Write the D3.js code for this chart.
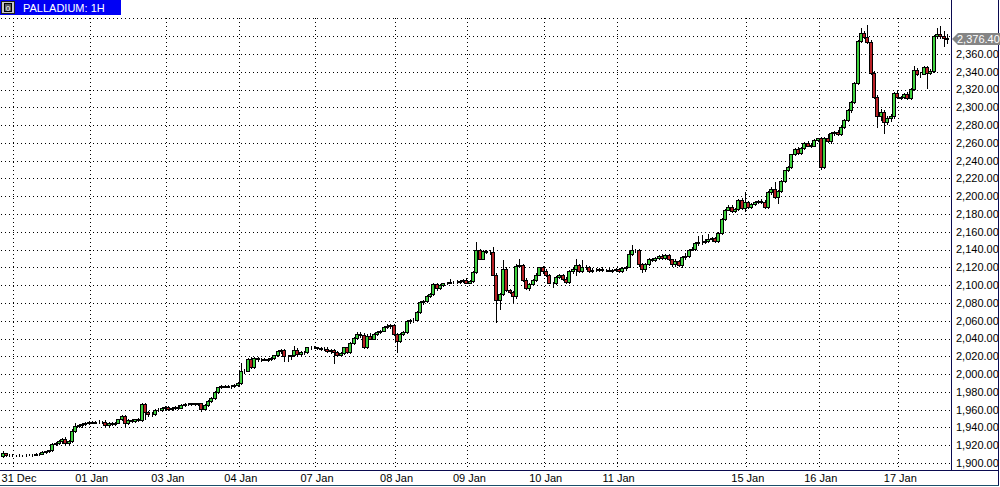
<!DOCTYPE html>
<html><head><meta charset="utf-8">
<script src="https://cdn.jsdelivr.net/npm/d3@7"></script>
<style>body{margin:0;background:#fff}svg{display:block}</style>
</head><body><svg id="c" width="1000" height="487"></svg>
<script>
const opens=[1908,1911,1909,1909,1908.5,1909,1908.5,1909,1909.5,1909,1909.5,1910,1910.5,1912.5,1913,1914.5,1921,1922.5,1925,1926.5,
1923,1924.5,1936,1942,1943,1944,1945,1946,1945.5,1946.5,1946,1946.5,1943,1944.5,1944,1945,1949,1953,1945,1948,
1947.5,1949,1948,1966,1957,1955.5,1955,1960,1959.5,1962,1963,1961,1962,1963.5,1962,1965.5,1966,1966.5,1967,1966.5,
1967,1960.5,1965,1970,1973,1980,1985,1986.5,1986,1987,1986.5,1988,1990,2003,2004,2017,2008,2018,2016.5,2017,
2016,2017,2018,2021,2026,2027,2020,2020.5,2021,2027,2023,2024.5,2025,2030,2031,2030,2029,2028,2028.5,2026,
2027,2025,2022,2024,2030,2025,2035,2041,2045,2044,2030,2043,2040,2045,2047,2049,2053,2054,2055,2045,
2037,2045,2047,2060,2060.5,2061,2070,2081,2082,2088,2090,2101,2097,2100,2102,2103,2103.5,2104,2103.5,2105,
2106,2103,2105,2115,2139,2130,2138,2137,2137.5,2112,2083,2090,2118,2095,2092,2088,2122,2123,2106,2097,
2101,2106,2112,2120,2116,2112,2103,2102,2109,2112,2107,2104,2116,2118,2123,2116,2121,2120,2116,2117.5,
2117,2118,2117,2117.5,2116.5,2117,2118,2116,2119,2121,2135,2139,2139.5,2124,2118,2124,2129,2128,2131,2133,
2131,2134,2129,2124,2127,2123,2132,2133,2140,2141,2147,2148,2149,2150,2152,2153,2150,2159,2174,2185,
2188,2183,2186,2196,2187,2193,2188,2191,2194,2195,2193,2188,2205,2208,2199,2206,2217,2229,2233,2247,
2253,2249,2254,2260,2257,2257,2263,2265,2233,2265,2262,2271,2272,2270,2278,2286,2297,2306,2327,2375,2384,
2379,2374,2339,2312,2290,2295,2284,2288,2290,2316,2311,2311.5,2315,2310,2321,2342,2337,2338,2345,
2339,2341,2380,2383,2380,2378];
const highs=[1913,1911.5,1910,1910,1909.5,1910,1909.5,1910,1910.5,1910,1911,1911,1913,1914,1915,1922,1924,1926,1928,1929,
1926,1938,1945,1944,1945,1946,1947,1947,1947,1948,1947.5,1948,1946,1946,1946,1950,1954,1954,1949,1950,
1950,1951,1968,1968,1959,1957,1961,1962,1963,1964,1964.5,1963,1964,1965,1966,1967,1967.5,1968,1968,1968,
1968,1966,1971,1974,1981,1986,1988,1988,1988,1988,1989,1991,2013,2006,2018,2019,2019,2019,2018,2018,
2018,2019,2022,2027,2028,2028,2022,2022,2032,2029,2026,2026,2031,2032,2032,2031,2030,2030,2031,2028,
2028,2026,2025,2031,2031,2036,2042,2047,2047,2046,2045,2046,2046,2048,2050,2054,2056,2056,2056,2046,
2046,2048,2061,2062,2063,2071,2082,2083,2089,2091,2102,2103,2101,2103,2104,2107,2105,2106,2106,2107,
2108,2106,2116,2148,2141,2140,2140,2139,2143,2114,2091,2128,2120,2096,2093,2124,2130,2124,2108,2102,
2107,2114,2121,2122,2118,2113,2104,2110,2113,2113,2109,2117,2119,2130,2124,2128,2123,2122,2119,2119,
2119,2120,2118.5,2119,2118,2119,2119,2120,2122,2138,2145,2141,2141,2125,2125,2131,2131,2132,2134,2135,
2135,2135,2130,2129,2128,2133,2136,2141,2143,2148,2155,2156,2152,2157,2154,2154,2160,2175,2186,2190,
2190,2187,2197,2198,2205,2195,2192,2195,2196,2197,2196,2206,2210,2216,2207,2218,2230,2234,2248,2254,
2255,2255,2261,2262,2260,2264,2266,2267,2267,2270,2272,2273,2274,2279,2287,2298,2307,2328,2376,2389,2386,
2393,2376,2341,2314,2298,2297,2290,2292,2317,2318,2313,2316,2317,2322,2346,2344,2340,2346,2347,
2343,2381,2389,2391,2386,2382];
const lows=[1907,1908,1908,1908,1907.5,1908,1907.5,1908,1908.5,1908,1909,1909,1910,1911.5,1912,1914,1920,1921,1923,1920,
1921,1924,1935,1940,1941,1943,1944,1944.5,1944.5,1945,1945,1942,1942,1943,1942.5,1944.5,1948,1940,1944,1946,
1946.5,1947,1947,1950,1953,1953,1954,1958,1958.5,1961,1960,1960,1961,1961,1961.5,1964.5,1965,1965,1965.5,1965.5,
1959,1960,1964,1969,1972,1979,1984,1985,1985,1984,1985,1987,1989,2001,2003,2007,2007,2015,2015,2015.5,
2015,2016,2017,2020,2024,2015,2015,2017,2020,2021,2022,2023,2024,2028,2029,2028,2027,2027,2025,2024,
2013,2021,2021,2023,2024,2024,2034,2040,2042,2029,2029,2039,2039,2044,2046,2048,2052,2052,2044,2025,
2036,2044,2046,2058,2059,2060,2069,2079,2081,2087,2089,2095,2096,2099,2101,2102,2102,2102.5,2103,2104,
2102,2102,2104,2114,2129,2129,2136,2135,2111,2059,2073,2089,2094,2091,2080,2086,2120,2105,2096,2095,
2100,2105,2111,2114,2110,2102,2098,2101,2108,2106,2102,2103,2114,2112,2115,2115,2118,2115,2115,2116,
2116,2116.5,2115.5,2116,2115,2116,2115,2115,2117,2120,2134,2137,2122,2115,2116,2123,2127,2127,2130,2130,
2130,2128,2122,2122,2122,2121,2130,2132,2139,2140,2145,2146,2147,2149,2150,2149,2149,2158,2173,2184,
2182,2182,2185,2186,2183,2187,2187,2190,2192,2192,2187,2187,2203,2198,2192,2205,2216,2228,2232,2246,
2248,2248,2253,2256,2255,2256,2262,2231,2232,2261,2260,2269,2269,2269,2277,2285,2295,2305,2326,2373,2378,
2372,2338,2311,2278,2286,2271,2281,2285,2288,2310,2309,2310,2309,2309,2320,2336,2334,2337,2322,
2338,2340,2378,2378,2369,2372];
const closes=[1911,1909,1909,1908.5,1909,1908.5,1909,1909.5,1909,1909.5,1910,1910.5,1912.5,1913,1914.5,1921,1922.5,1925,1926.5,1923,
1924.5,1936,1942,1943,1944,1945,1946,1945.5,1946.5,1946,1946.5,1943,1944.5,1944,1945,1949,1953,1945,1948,1947.5,
1949,1948,1966,1957,1955.5,1955,1960,1959.5,1962,1963,1961,1962,1963.5,1962,1965.5,1966,1966.5,1967,1966.5,1967,
1960.5,1965,1970,1973,1980,1985,1986.5,1986,1987,1986.5,1988,1990,2003,2004,2017,2008,2018,2016.5,2017,2016,
2017,2018,2021,2026,2027,2020,2020.5,2021,2027,2023,2024.5,2025,2030,2031,2030,2029,2028,2028.5,2026,2027,
2025,2022,2024,2030,2025,2035,2041,2045,2044,2030,2043,2040,2045,2047,2049,2053,2054,2055,2045,2037,
2045,2047,2060,2060.5,2061,2070,2081,2082,2088,2090,2101,2097,2100,2102,2103,2103.5,2104,2103.5,2105,2106,
2103,2105,2115,2139,2130,2138,2137,2137.5,2112,2083,2090,2118,2095,2092,2088,2122,2123,2106,2097,2101,
2106,2112,2120,2116,2112,2103,2102,2109,2112,2107,2104,2116,2118,2123,2116,2121,2120,2116,2117.5,2117,
2118,2117,2117.5,2116.5,2117,2118,2116,2119,2121,2135,2139,2139.5,2124,2118,2124,2129,2128,2131,2133,2131,
2134,2129,2124,2127,2123,2132,2133,2140,2141,2147,2148,2149,2150,2152,2153,2150,2159,2174,2185,2188,
2183,2186,2196,2187,2193,2188,2191,2194,2195,2193,2188,2205,2208,2199,2206,2217,2229,2233,2247,2253,
2249,2254,2260,2257,2257.5,2263,2265,2233,2265,2262,2271,2272,2270,2278,2286,2297,2306,2327,2375,2384,2379,
2374,2339,2312,2290,2295,2284,2288,2290,2316,2312,2311.5,2315,2310,2321,2342,2337,2338,2345,2339,
2341,2380,2383,2380,2378,2376.4];
const dateLabels=["31 Dec","01 Jan","03 Jan","04 Jan","07 Jan","08 Jan","09 Jan","10 Jan","11 Jan","15 Jan","16 Jan","17 Jan"];
const dateIndex=[3,26,49,71,94,118,140,163,185,224,246,270];
const yTicks=[1900,1920,1940,1960,1980,2000,2020,2040,2060,2080,2100,2120,2140,2160,2180,2200,2220,2240,2260,2280,2300,2320,2340,2360,2380,2400];
const yLabelTicks=[1900,1920,1940,1960,1980,2000,2020,2040,2060,2080,2100,2120,2140,2160,2180,2200,2220,2240,2260,2280,2300,2320,2340,2360];
const lastPrice=2376.40;
const title="PALLADIUM: 1H";

const svg=d3.select("#c");
const W=1000,H=487,PR=951,PB=470;
const x=d3.scaleLinear().domain([0,closes.length-1]).range([3.5,948]);
const y=d3.scaleLinear().domain([1900,2360]).range([463,54]);
const fmt=d3.format(",.2f");
const font="'Liberation Sans', Arial, sans-serif";

svg.append("rect").attr("width",W).attr("height",H).attr("fill","#fff");
svg.append("defs").append("clipPath").attr("id","pc").append("rect").attr("x",0).attr("y",0).attr("width",PR).attr("height",PB);

const grid=svg.append("g").attr("stroke","#000").attr("stroke-width",1).attr("stroke-dasharray","1,3");
grid.selectAll("line.h").data(yTicks).join("line").attr("class","h")
  .attr("x1",1).attr("x2",PR).attr("y1",d=>Math.round(y(d))+0.5).attr("y2",d=>Math.round(y(d))+0.5);
grid.selectAll("line.v").data(dateIndex).join("line").attr("class","v")
  .attr("x1",d=>Math.round(x(d))+0.5).attr("x2",d=>Math.round(x(d))+0.5).attr("y1",18).attr("y2",PB);

const data=closes.map((c,i)=>({i,o:opens[i],h:highs[i],l:lows[i],c}));
const cg=svg.append("g").attr("clip-path","url(#pc)");
const cs=cg.selectAll("g").data(data).join("g");
cs.append("line")
  .attr("x1",d=>Math.round(x(d.i))-0.5).attr("x2",d=>Math.round(x(d.i))-0.5)
  .attr("y1",d=>Math.round(y(d.h))).attr("y2",d=>Math.round(y(d.l))+1)
  .attr("stroke","#000").attr("stroke-width",1);
cs.append("rect")
  .attr("x",d=>Math.round(x(d.i))-2.5)
  .attr("y",d=>Math.round(y(Math.max(d.o,d.c)))+0.5)
  .attr("width",3)
  .attr("height",d=>Math.max(0,Math.round(y(Math.min(d.o,d.c)))-Math.round(y(Math.max(d.o,d.c)))))
  .attr("fill",d=>d.c>=d.o?"#3ed23e":"#b82025")
  .attr("stroke","#000").attr("stroke-width",1);

// frame
const fr=svg.append("g").attr("stroke","#0a0a50").attr("stroke-width",1);
fr.append("line").attr("x1",PR+0.5).attr("x2",PR+0.5).attr("y1",0).attr("y2",PB+1);
fr.append("line").attr("x1",0).attr("x2",998).attr("y1",PB+0.5).attr("y2",PB+0.5);
fr.append("line").attr("x1",998.5).attr("x2",998.5).attr("y1",0).attr("y2",486);
fr.append("line").attr("x1",0).attr("x2",999).attr("y1",485.5).attr("y2",485.5).attr("stroke","#1b4f6a");

// y labels
svg.append("g").selectAll("text").data(yLabelTicks).join("text")
  .attr("x",956).attr("y",d=>y(d)).attr("dy","0.35em")
  .attr("font-family",font).attr("font-size",11).attr("fill","#000")
  .text(d=>fmt(d));

// x labels
svg.append("g").selectAll("text").data(dateLabels).join("text")
  .attr("x",(d,k)=>Math.max(19,x(dateIndex[k])+2)).attr("y",478).attr("dy","0.35em")
  .attr("text-anchor","middle")
  .attr("font-family",font).attr("font-size",11).attr("fill","#000")
  .text(d=>d);

// last price marker
const ly=Math.round(y(lastPrice));
svg.append("path")
  .attr("d",`M${PR+1},${ly} L${PR+7},${ly-6} L1000,${ly-6} L1000,${ly+6} L${PR+7},${ly+6} Z`)
  .attr("fill","#858585");
svg.append("text").attr("x",957).attr("y",ly).attr("dy","0.35em")
  .attr("font-family",font).attr("font-size",11).attr("fill","#fff").text(fmt(lastPrice));

// title bar
svg.append("rect").attr("x",0).attr("y",0).attr("width",121).attr("height",15).attr("fill","#0000f5");
svg.append("rect").attr("x",1.5).attr("y",1.5).attr("width",13).attr("height",12).attr("fill","#c8c8c8").attr("stroke","#202020");
svg.append("rect").attr("x",4.5).attr("y",3.5).attr("width",7).attr("height",8).attr("fill","#5a5a5a").attr("stroke","#000");
svg.append("text").attr("x",8).attr("y",8).attr("dy","0.35em").attr("text-anchor","middle")
  .attr("font-family",font).attr("font-size",8).attr("fill","#fff").text("0");
svg.append("text").attr("x",23).attr("y",8).attr("dy","0.35em")
  .attr("font-family",font).attr("font-size",11).attr("fill","#fff").text(title);
</script></body></html>
